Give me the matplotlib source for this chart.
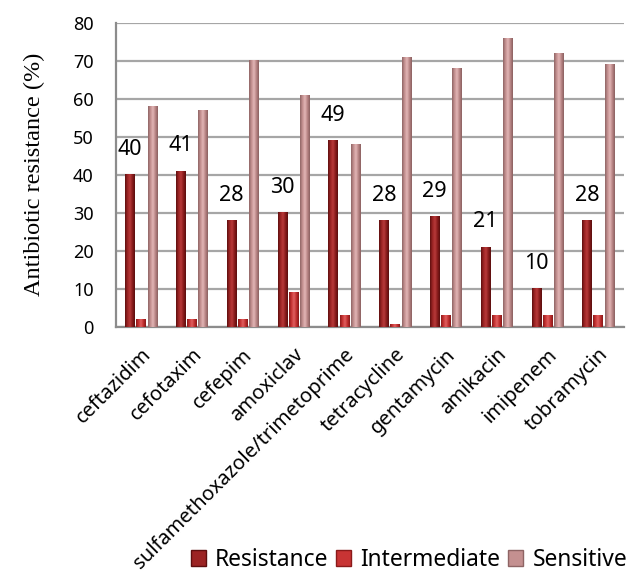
import numpy as np
import matplotlib
matplotlib.use("Agg")
import matplotlib.pyplot as plt
from matplotlib.colors import LinearSegmentedColormap
from matplotlib.patches import Patch

antibiotics = ["ceftazidim", "cefotaxim", "cefepim", "amoxiclav",
               "sulfamethoxazole/trimetoprime", "tetracycline", "gentamycin",
               "amikacin", "imipenem", "tobramycin"]
resistance = [40, 41, 28, 30, 49, 28, 29, 21, 10, 28]
intermediate = [2, 2, 2, 9, 3, 0.7, 3, 3, 3, 3]
sensitive = [58, 57, 70, 61, 48, 71, 68, 76, 72, 69]

series = [
    ("Resistance", resistance, ["#5e0f0f", "#9c2424", "#b83a3a", "#8a1c1c", "#5a0e0e"]),
    ("Intermediate", intermediate, ["#8a1a1a", "#c83434", "#e06060", "#c02e2e", "#861818"]),
    ("Sensitive", sensitive, ["#8e6464", "#c49090", "#e2b6b6", "#b88484", "#8a6060"]),
]

SANS = "Noto Sans"

fig = plt.figure(figsize=(6.3, 5.78), dpi=100)
ax = fig.add_axes([0.184, 0.4348, 0.806, 0.526])

x = np.arange(len(antibiotics))
offsets = [-0.22, 0.0, 0.22]
width = 0.19

# cylinder-like bars: a horizontal colour gradient stretched over each bar
grad = np.linspace(0, 1, 64).reshape(1, -1)
for (name, vals, cols), off in zip(series, offsets):
    cmap = LinearSegmentedColormap.from_list(name, cols)
    for xi, v in zip(x, vals):
        x0 = xi + off - width / 2
        ax.imshow(grad, extent=[x0, x0 + width, 0, v], aspect="auto",
                  cmap=cmap, interpolation="bilinear", zorder=3)

# value labels above the resistance bars
for xi, v in zip(x, resistance):
    ax.text(xi + offsets[0], v + 6.6, str(v), ha="center", va="center",
            fontsize=15.5, family=SANS, zorder=4)

ax.set_xlim(-0.5, len(antibiotics) - 0.5)
ax.set_ylim(0, 80)
ax.set_yticks(range(0, 81, 10))
ax.yaxis.grid(True, color="#a6a6a6", linewidth=1.6, zorder=0)
ax.set_axisbelow(True)
for s in ["top", "right"]:
    ax.spines[s].set_visible(False)
for s in ["left", "bottom"]:
    ax.spines[s].set_color("#8c8c8c")
    ax.spines[s].set_linewidth(1.6)
ax.tick_params(axis="y", length=0, pad=16, labelsize=13)
ax.tick_params(axis="x", length=0, pad=13)
for lab in ax.get_yticklabels():
    lab.set_family(SANS)

ax.set_xticks(x)
ax.set_xticklabels(antibiotics, rotation=45, ha="right", va="top",
                   rotation_mode="anchor", fontsize=14.5, family=SANS)

ax.set_ylabel("Antibiotic resistance (%)", family="Liberation Serif",
              fontsize=17.5, labelpad=20)

handles = [Patch(facecolor=c[1], edgecolor=c[0], label=n) for n, _, c in series]
fig.legend(handles=handles, loc="center", bbox_to_anchor=(0.649, 0.031),
           ncol=3, frameon=False, handlelength=0.66,
           handleheight=0.66, handletextpad=0.4, columnspacing=0.35,
           borderpad=0, prop={"family": SANS, "size": 16.4})

fig.savefig("out.png", dpi=100)
